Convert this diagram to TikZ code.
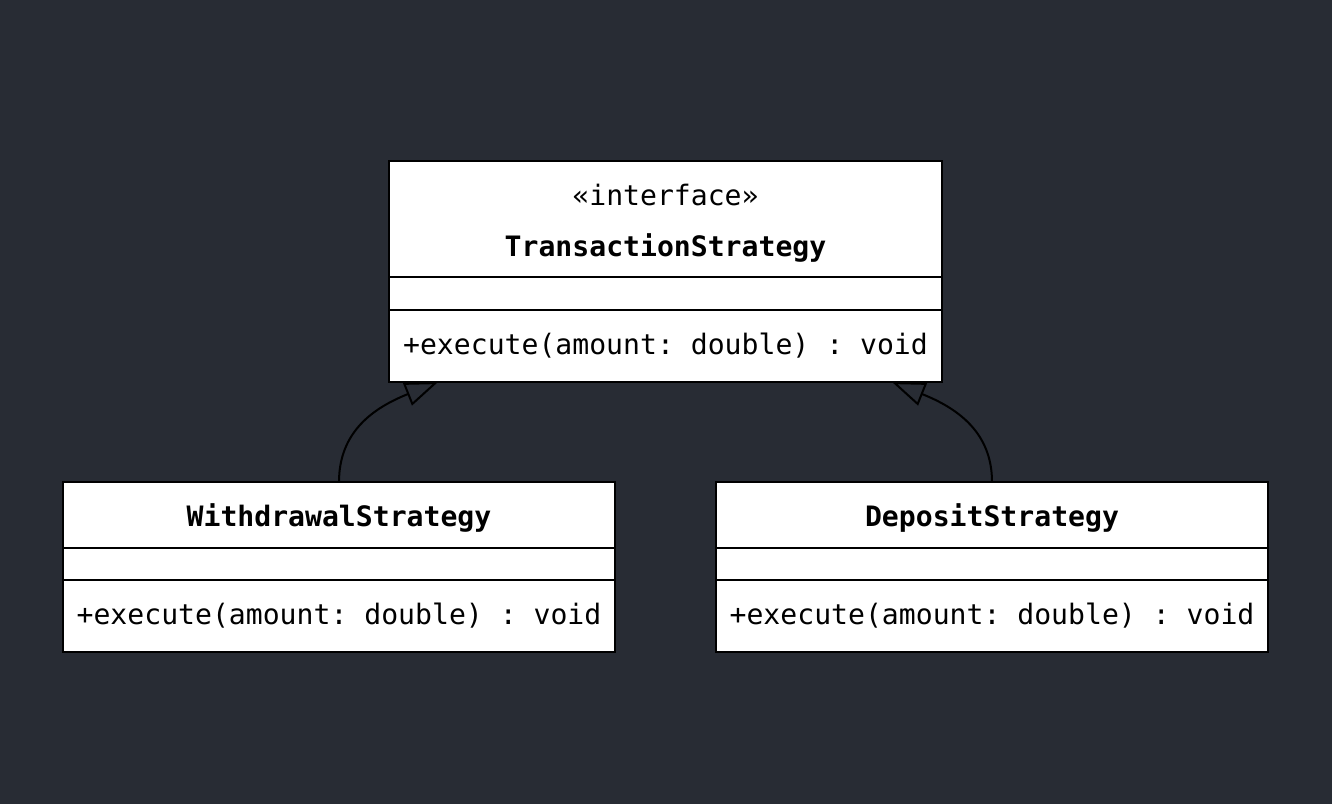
\documentclass[tikz,border=0pt]{standalone}
\usepackage{fontspec}
\setmonofont{DejaVu Sans Mono}
\usepackage{xcolor}
\usetikzlibrary{positioning,arrows.meta}
\definecolor{bgdark}{HTML}{282C34}
\tikzset{
    compart/.style={draw=black, fill=white, line width=0.2mm, inner sep=0pt, outer sep=0pt,
        font=\ttfamily\fontsize{8}{14.2}\selectfont},
    txt/.style={inner sep=0pt, anchor=base, font=\ttfamily\fontsize{8}{14.2}\selectfont},
    realize/.style={draw=black, line width=0.2mm, -{Triangle[open,length=3.3mm,width=2.4mm]}}
}

\begin{document}
\begin{tikzpicture}
    % background
    \useasboundingbox (0,0) rectangle (13.32,-8.04);
    \fill[bgdark] (0,0) rectangle (13.32,-8.04);
    % interface
    \node[compart, minimum width=5.53cm, minimum height=1.16cm, anchor=north west] (tsh) at (3.89,-1.61) {};
    \node[compart, minimum width=5.53cm, minimum height=0.33cm, below=0pt of tsh] (tsa) {};
    \node[compart, minimum width=5.53cm, minimum height=0.72cm, below=0pt of tsa] (tsm) {+execute(amount: double) : void};
    \node[txt] (tsst) at ([yshift=-0.44cm]tsh.north) {«interface»};
    \node[txt] (tsn) at ([yshift=-0.955cm]tsh.north) {\textbf{TransactionStrategy}};
    % withdrawal
    \node[compart, minimum width=5.52cm, minimum height=0.66cm, anchor=north west] (wsh) at (0.63,-4.82) {};
    \node[compart, minimum width=5.52cm, minimum height=0.32cm, below=0pt of wsh] (wsa) {};
    \node[compart, minimum width=5.52cm, minimum height=0.72cm, below=0pt of wsa] (wsm) {+execute(amount: double) : void};
    \node[txt] (wsn) at ([yshift=-0.44cm]wsh.north) {\textbf{WithdrawalStrategy}};
    % deposit
    \node[compart, minimum width=5.52cm, minimum height=0.66cm, anchor=north west] (dsh) at (7.16,-4.82) {};
    \node[compart, minimum width=5.52cm, minimum height=0.32cm, below=0pt of dsh] (dsa) {};
    \node[compart, minimum width=5.52cm, minimum height=0.72cm, below=0pt of dsa] (dsm) {+execute(amount: double) : void};
    \node[txt] (dsn) at ([yshift=-0.44cm]dsh.north) {\textbf{DepositStrategy}};
    % arrows
    \coordinate (tsL) at ([xshift=0.49cm]tsm.south west);
    \coordinate (tsR) at ([xshift=-0.50cm]tsm.south east);
    \draw[realize] (wsh.north) .. controls +(0,0.5) and +(-0.65,-0.26) .. (tsL);
    \draw[realize] (dsh.north) .. controls +(0,0.5) and +(0.65,-0.26) .. (tsR);
\end{tikzpicture}
\end{document}
